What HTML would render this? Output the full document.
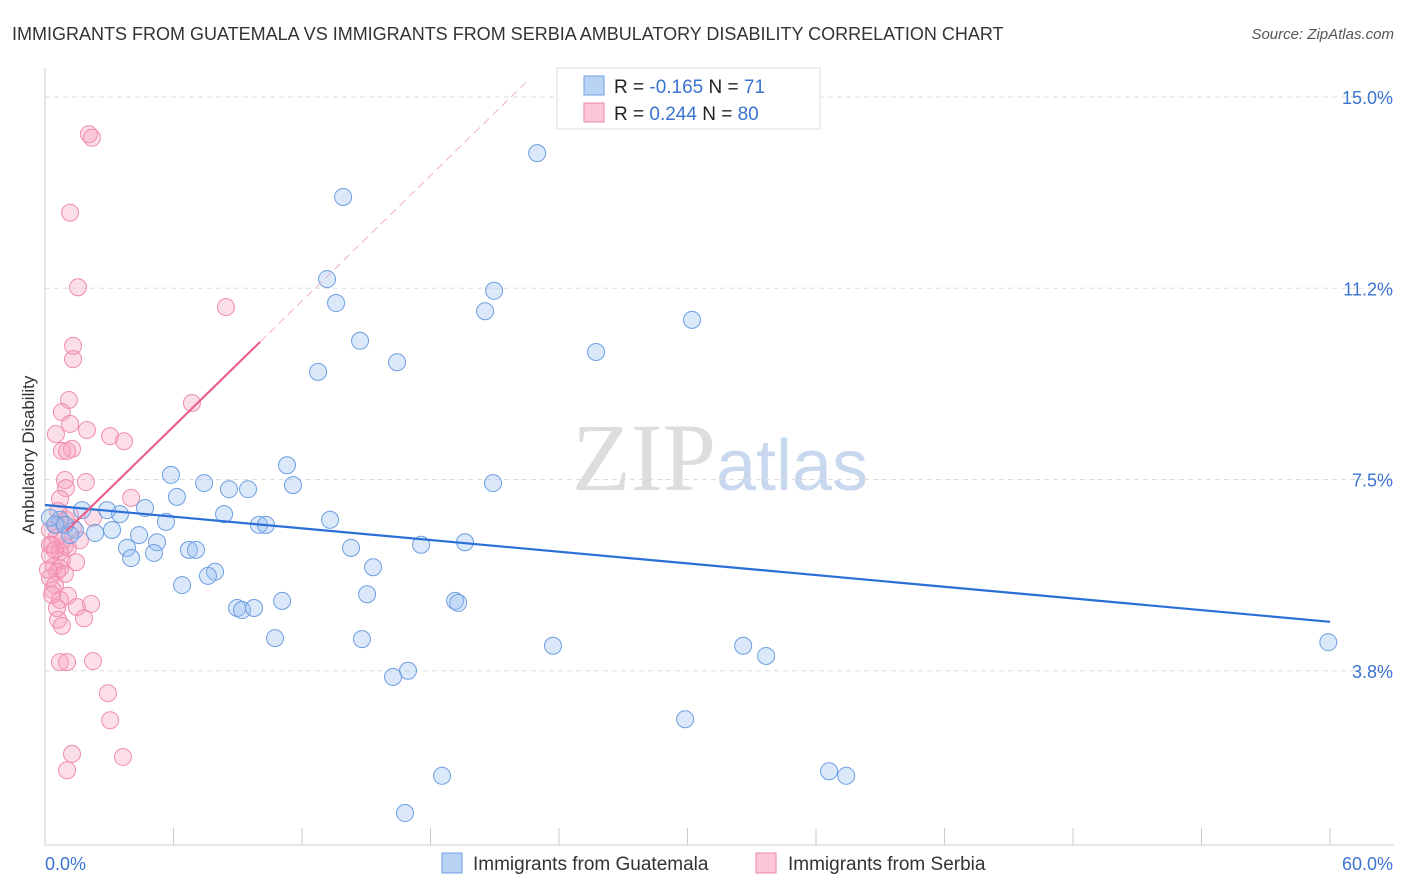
<!DOCTYPE html>
<html><head><meta charset="utf-8"><style>
body{margin:0;background:#fff;font-family:"Liberation Sans",sans-serif;}
</style></head><body>
<svg id="chart" width="1406" height="892" xmlns="http://www.w3.org/2000/svg" style="display:block">
<text x="12" y="40" font-size="18" fill="#333">IMMIGRANTS FROM GUATEMALA VS IMMIGRANTS FROM SERBIA AMBULATORY DISABILITY CORRELATION CHART</text>
<text x="1394" y="39" font-size="15" fill="#555" text-anchor="end" font-style="italic">Source: ZipAtlas.com</text>
<text x="720" y="490" font-size="96" text-anchor="middle"><tspan fill="#ddd" font-family="Liberation Serif">ZIP</tspan><tspan fill="#c8d8ef" font-size="72">atlas</tspan></text>
<text transform="translate(34,455) rotate(-90)" font-size="17" fill="#333" text-anchor="middle">Ambulatory Disability</text>
<g id="grid"></g><g id="axes"></g><g id="marks"></g>
<g>
<rect x="557" y="68" width="263" height="61" fill="#fff" stroke="#ddd"/>
<rect x="584" y="76" width="20" height="19" fill="#b9d3f5" stroke="#6e9fe0"/>
<rect x="584" y="103" width="20" height="19" fill="#fbc6d6" stroke="#ea8aa9"/>
<text x="614" y="93" font-size="19" fill="#222">R = <tspan fill="#3a73d0">-0.165</tspan>   N = <tspan fill="#3a73d0"> 71</tspan></text>
<text x="614" y="120" font-size="19" fill="#222">R = <tspan fill="#3a73d0"> 0.244</tspan>   N = <tspan fill="#3a73d0">80</tspan></text>
</g>
<g>
<rect x="442" y="853" width="20" height="20" fill="#b9d3f5" stroke="#6e9fe0"/>
<text x="473" y="870" font-size="19" fill="#333">Immigrants from Guatemala</text>
<rect x="756" y="853" width="20" height="20" fill="#fbc6d6" stroke="#ea8aa9"/>
<text x="788" y="870" font-size="19" fill="#333">Immigrants from Serbia</text>
</g>
</svg>
<script>
const xTicks=[0,6,12,18,24,30,36,42,48,54,60];
const yTicks=[15,11.25,7.5,3.75];
const yTickLabels=["15.0%","11.2%","7.5%","3.8%"];
const blueX=[22.98,13.92,13.17,13.59,20.97,20.55,30.21,14.71,25.73,16.44,12.75,5.88,11.30,7.43,8.59,9.48,6.16,11.58,20.92,4.67,3.50,2.90,1.73,8.36,5.65,9.99,10.32,13.31,0.70,0.47,1.40,2.34,3.13,4.39,3.83,4.02,5.23,5.09,6.72,7.05,14.29,17.56,19.61,15.32,7.94,7.61,6.40,8.97,9.20,9.76,11.07,15.04,19.15,19.29,10.74,14.80,23.72,32.60,33.67,16.95,16.25,29.89,18.54,36.61,37.41,16.81,59.92,0.93,0.23,1.17];
const blueY=[13.90,13.04,11.43,10.96,11.20,10.80,10.63,10.22,10.00,9.80,9.61,7.59,7.78,7.43,7.31,7.31,7.16,7.39,7.43,6.94,6.82,6.90,6.90,6.82,6.67,6.61,6.61,6.71,6.71,6.61,6.51,6.45,6.51,6.41,6.16,5.96,6.27,6.06,6.12,6.12,6.16,6.22,6.27,5.78,5.69,5.61,5.43,4.98,4.94,4.98,5.12,5.25,5.12,5.08,4.39,4.37,4.24,4.24,4.04,3.75,3.63,2.80,1.69,1.78,1.69,0.96,4.31,6.61,6.75,6.41];
const pinkX=[2.05,2.19,1.17,1.54,8.45,1.31,1.31,6.86,1.12,0.79,1.17,1.96,0.51,3.04,3.69,1.26,0.79,1.03,0.93,0.98,1.91,0.70,4.02,0.61,2.24,0.98,0.51,1.31,0.23,0.56,1.63,0.93,0.33,1.07,0.70,0.23,0.79,1.45,0.42,0.70,0.56,0.93,0.23,0.47,0.37,1.07,0.70,2.15,1.49,0.56,1.82,0.61,0.79,0.70,1.03,2.24,2.94,3.04,1.26,3.64,1.03,0.23,0.47,0.84,1.17,0.14,0.33];
const pinkY=[14.27,14.20,12.73,11.27,10.88,10.12,9.86,9.00,9.06,8.82,8.59,8.47,8.39,8.35,8.25,8.10,8.06,8.06,7.49,7.33,7.45,7.12,7.14,6.88,6.75,6.71,6.63,6.55,6.51,6.37,6.31,6.20,6.22,6.16,6.08,6.02,5.92,5.88,5.80,5.76,5.69,5.65,5.57,5.43,5.33,5.22,5.14,5.06,5.00,4.98,4.78,4.75,4.63,3.92,3.92,3.94,3.31,2.78,2.12,2.06,1.80,6.22,6.12,6.31,6.80,5.73,5.24];
const blueTrend=[7.0,4.71];
const pinkTrend=[6.08,0.41];
const sx=v=>45+v*(1285/60);
const sy=v=>97+(15-v)*51;
const NS='http://www.w3.org/2000/svg';
function mk(p,t,a){const e=document.createElementNS(NS,t);for(const k in a)e.setAttribute(k,a[k]);p.appendChild(e);return e;}
const grid=document.getElementById('grid'),axes=document.getElementById('axes'),marks=document.getElementById('marks');
yTicks.forEach((v,i)=>{
 const l=mk(grid,'line',{x1:45,x2:1394,y1:sy(v),y2:sy(v),stroke:'#ddd','stroke-dasharray':'5,4'});
 
 
 const t=mk(axes,'text',{x:1393,y:sy(v)+7,'font-size':18,fill:'#3a73d0','text-anchor':'end'});
 t.textContent=yTickLabels[i];
 
 
});
const xa=mk(axes,'line',{x1:45,x2:1394,y1:845,y2:845,stroke:'#ccc'});


const ya=mk(axes,'line',{x1:45,x2:45,y1:68,y2:845,stroke:'#ccc'});


xTicks.forEach(v=>{const t=mk(axes,'line',{x1:sx(v),x2:sx(v),y1:828,y2:845,stroke:'#ccc'});
 
 });
const x0=mk(axes,'text',{x:45,y:870,'font-size':18,fill:'#3a73d0'});x0.textContent='0.0%';


const x1=mk(axes,'text',{x:1393,y:870,'font-size':18,fill:'#3a73d0','text-anchor':'end'});x1.textContent='60.0%';


pinkX.forEach((x,i)=>{const c=mk(marks,'circle',{cx:sx(x),cy:sy(pinkY[i]),r:8.5,fill:'rgba(246,160,190,0.35)',stroke:'#f08cad','stroke-width':1});
 
 });
blueX.forEach((x,i)=>{const c=mk(marks,'circle',{cx:sx(x),cy:sy(blueY[i]),r:8.5,fill:'rgba(150,190,240,0.35)',stroke:'#6e9fe0','stroke-width':1});
 
 });
const bl=mk(marks,'line',{x1:sx(0),y1:sy(blueTrend[0]),x2:sx(60),y2:sy(blueTrend[1]),stroke:'#2a6fd6','stroke-width':2.2});


const pf=x=>pinkTrend[0]+pinkTrend[1]*x;
const ps=mk(marks,'line',{x1:sx(1),y1:sy(pf(1)),x2:sx(10.04),y2:sy(pf(10.04)),stroke:'#e8608c','stroke-width':2.2});


const pd=mk(marks,'line',{x1:sx(10.04),y1:sy(pf(10.04)),x2:sx(22.6),y2:sy(pf(22.6)),stroke:'#f0b0c4','stroke-width':1,'stroke-dasharray':'8,5'});


</script>
</body></html>
